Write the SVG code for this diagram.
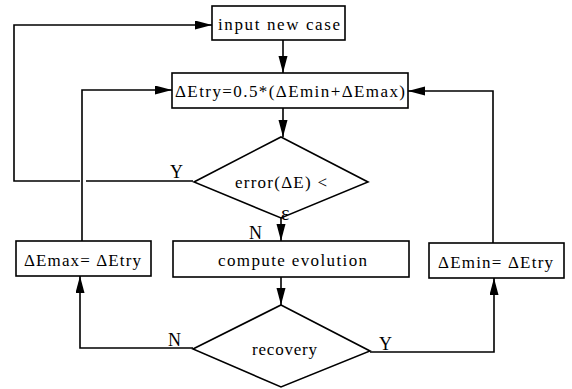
<svg xmlns="http://www.w3.org/2000/svg" width="572" height="389" viewBox="0 0 572 389">
<style>
.box{fill:#fff;stroke:#000;stroke-width:1.6}
.ln{fill:none;stroke:#000;stroke-width:1.6}
.t{font-family:"Liberation Serif","DejaVu Serif",serif;font-size:17px;fill:#000}
.lb{font-family:"Liberation Serif","DejaVu Serif",serif;font-size:18px;fill:#000}
</style>
<defs>
<marker id="ah" markerUnits="userSpaceOnUse" markerWidth="18" markerHeight="10" refX="17" refY="4.5" orient="auto">
<path d="M0,0 L17,4.5 L0,9 z" fill="#000"/>
</marker>
</defs>
<rect width="572" height="389" fill="#fff"/>
<g id="connectors">
<path class="ln" d="M283,40 V73" marker-end="url(#ah)"/>
<path class="ln" d="M283,108 V137" marker-end="url(#ah)"/>
<path class="ln" d="M281,218 V241" marker-end="url(#ah)"/>
<path class="ln" d="M281,277 V305" marker-end="url(#ah)"/>
<path class="ln" d="M193,181 H86 M80,181 H14 V25 H212" marker-end="url(#ah)"/>
<path class="ln" d="M82,241 V90 H172" marker-end="url(#ah)"/>
<path class="ln" d="M493,243 V91 H408" marker-end="url(#ah)"/>
<path class="ln" d="M193,348 H80 V276" marker-end="url(#ah)"/>
<path class="ln" d="M370,352 H494 V278" marker-end="url(#ah)"/>
<text class="lb" x="170" y="178">Y</text>
<text class="lb" x="249" y="239">N</text>
<text class="lb" x="168" y="346">N</text>
<text class="lb" x="379" y="350">Y</text>
</g>
<g id="input">
<rect class="box" x="212" y="6" width="133" height="34"/>
<text class="t" x="218" y="30" textLength="122" lengthAdjust="spacing">input new case</text>
</g>
<g id="etry">
<rect class="box" x="172" y="73" width="236" height="35"/>
<text class="t" x="175" y="97" textLength="230" lengthAdjust="spacing">ΔEtry=0.5*(ΔEmin+ΔEmax)</text>
</g>
<g id="error">
<polygon class="box" points="281,137 368,182 281,218 194,182"/>
<text class="t" x="235" y="188" textLength="92" lengthAdjust="spacing">error(ΔE) &lt;</text>
<text class="t" x="281" y="220" style="font-size:20px">ε</text>
</g>
<g id="compute">
<rect class="box" x="173" y="241" width="236" height="36"/>
<text class="t" x="218" y="266" textLength="149" lengthAdjust="spacing">compute evolution</text>
</g>
<g id="emax">
<rect class="box" x="16" y="241" width="135" height="35"/>
<text class="t" x="24" y="266" textLength="117" lengthAdjust="spacing">ΔEmax= ΔEtry</text>
</g>
<g id="emin">
<rect class="box" x="429" y="243" width="135" height="35"/>
<text class="t" x="438" y="268" textLength="115" lengthAdjust="spacing">ΔEmin= ΔEtry</text>
</g>
<g id="recovery">
<polygon class="box" points="281,305 370,351 281,387 193,349"/>
<text class="t" x="252" y="355" textLength="65" lengthAdjust="spacing">recovery</text>
</g>
</svg>
